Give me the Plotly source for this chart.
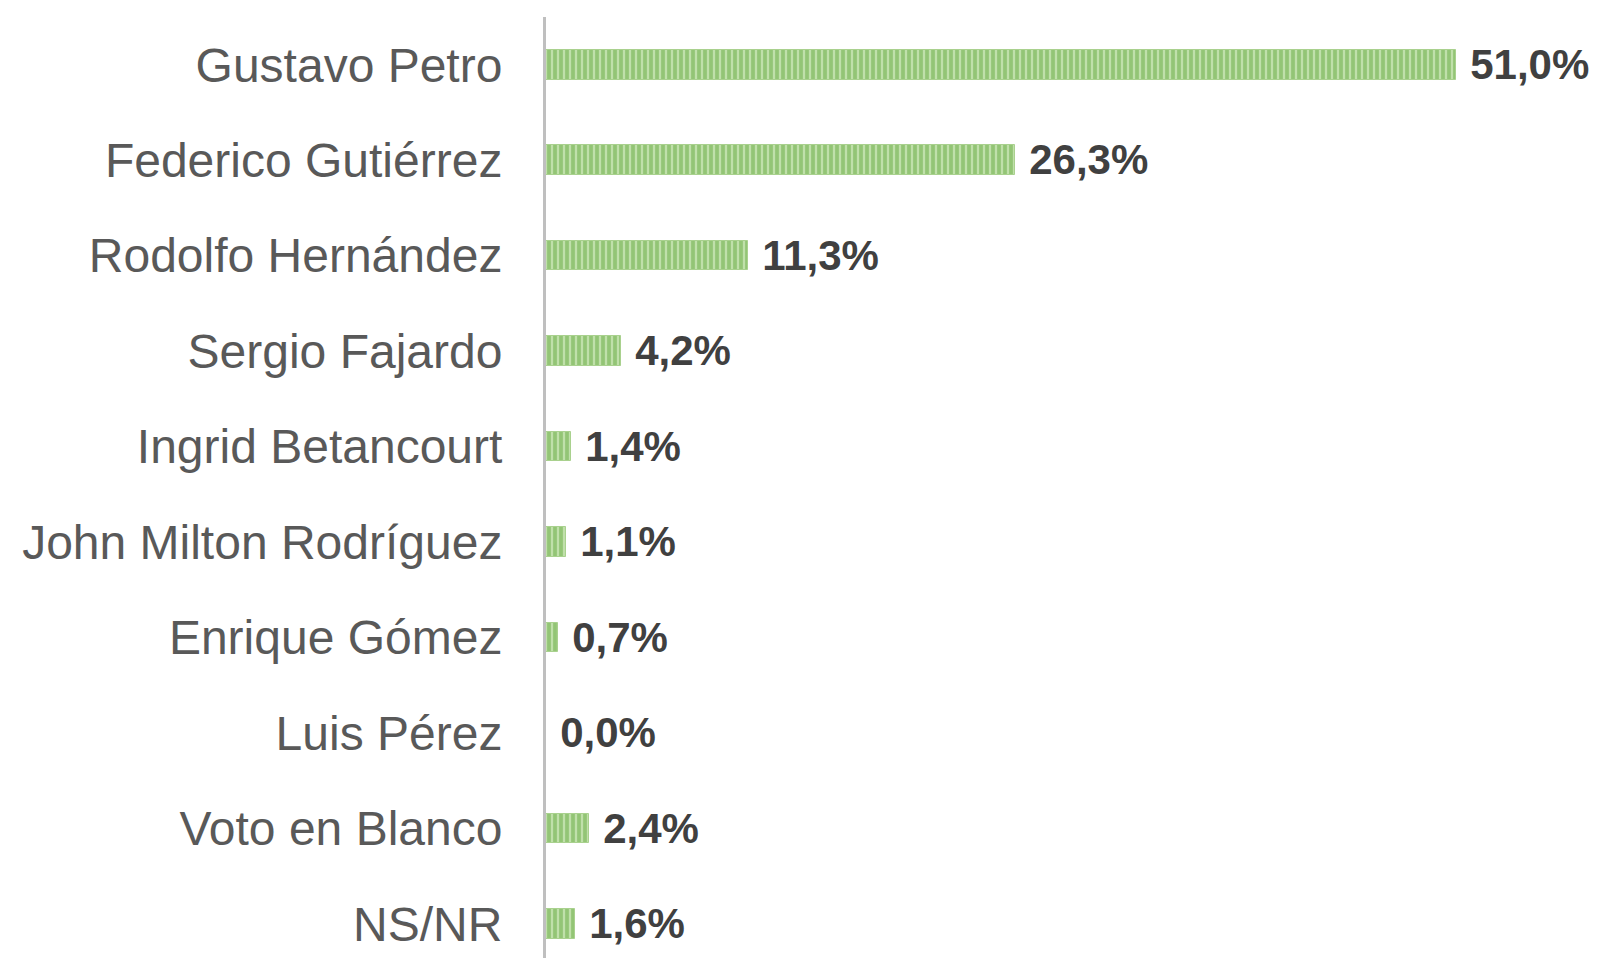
import plotly.graph_objects as go

candidates = ["Gustavo Petro", "Federico Gutiérrez", "Rodolfo Hernández", "Sergio Fajardo",
              "Ingrid Betancourt", "John Milton Rodríguez", "Enrique Gómez", "Luis Pérez",
              "Voto en Blanco", "NS/NR"]
values = [51.0, 26.3, 11.3, 4.2, 1.4, 1.1, 0.7, 0.0, 2.4, 1.6]
labels = ["\u00a0" + f"{v:.1f}".replace(".", ",") + "%" for v in values]

fig = go.Figure()
fig.add_trace(go.Bar(
    x=values,
    y=candidates,
    orientation="h",
    width=0.31,
    text=labels,
    textposition="outside",
    constraintext="none",
    textfont=dict(family="Liberation Sans, Arial", size=42, color="#404040", weight="bold"),
    cliponaxis=False,
    marker=dict(
        color="#c0e0aa",
        line=dict(color="#a9d18e", width=1),
        pattern=dict(shape="|", fgcolor="#66aa40", bgcolor="#c0e0aa", size=6, solidity=0.62),
    ),
    showlegend=False,
))

fig.update_layout(
    width=1600, height=958,
    plot_bgcolor="white", paper_bgcolor="white",
    margin=dict(l=538, r=0, t=9, b=0),
    bargap=0,
    font=dict(family="Liberation Sans, Arial"),
    xaxis=dict(range=[0, 59.5], visible=False, fixedrange=True),
    yaxis=dict(
        categoryorder="array", categoryarray=candidates,
        range=[9.44, -0.5],
        showline=True, linecolor="#bfbfbf", linewidth=3,
        showgrid=False, zeroline=False,
        ticks="", ticklabelstandoff=31,
        tickfont=dict(size=48, color="#595959"),
    ),
)

fig.write_html("out.html")
